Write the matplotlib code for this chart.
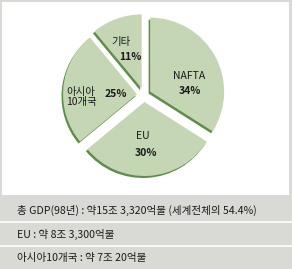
import matplotlib.pyplot as plt
from matplotlib.patches import Rectangle

plt.rcParams['font.family'] = ['Noto Sans CJK KR', 'DejaVu Sans']

# pie data
REGIONS = ["NAFTA", "EU", "아시아\n10개국", "기타"]
SHARES = [34, 30, 25, 11]

# notes under the chart
NOTES = [
    "총 GDP(98년) : 약15조 3,320억불 (세계전체의 54.4%)",
    "EU : 약 8조 3,300억불",
    "아시아10개국 : 약 7조 20억불",
]

W, H = 292, 269
BG_GRAY = "#d9dad5"
FILL = "#c5d6b5"
EDGE = "#5e8c4a"
TXT = "#1a1a1a"

fig = plt.figure(figsize=(W / 100, H / 100), dpi=100)
fig.patch.set_facecolor(BG_GRAY)
ax = fig.add_axes([0, 0, 1, 1])

# white chart panel
ax.add_patch(Rectangle((2, H - 195), 287, 193, facecolor="white", edgecolor="none"))

# note rows separated by white lines
for yy in (221, 245):
    ax.plot([0, W], [H - yy - 0.5, H - yy - 0.5], color="white", lw=1.2)

cx, cy, r = 144, H - 95, 74
explode = [7] * len(SHARES)  # pie explode is in data units

# dark offset copy gives the shadow edge
ax.pie(SHARES, startangle=90, counterclock=False, explode=explode,
       center=(cx - 1.5, cy - 2), radius=r, colors=[EDGE] * 4,
       wedgeprops=dict(linewidth=0), frame=True)
ax.pie(SHARES, startangle=90, counterclock=False, explode=explode,
       center=(cx, cy), radius=r, colors=[FILL] * 4,
       wedgeprops=dict(linewidth=0), frame=True)
ax.set_xlim(0, W)
ax.set_ylim(0, H)
ax.set_aspect("auto")
ax.axis("off")

kw = dict(ha="center", va="center", color=TXT, fontsize=7.5)
ax.text(189, H - 76, REGIONS[0], **kw)
ax.text(190, H - 91, f"{SHARES[0]}%", fontweight="bold", **kw)
ax.text(143, H - 136, REGIONS[1], **kw)
ax.text(146, H - 153, f"{SHARES[1]}%", fontweight="bold", **kw)
ax.text(81, H - 97, REGIONS[2], linespacing=1.0, **kw)
ax.text(116, H - 94, f"{SHARES[2]}%", fontweight="bold", **kw)
ax.text(121, H - 42, REGIONS[3], **kw)
ax.text(130, H - 57, f"{SHARES[3]}%", fontweight="bold", **kw)

for note, yy in zip(NOTES, (210, 234, 258)):
    ax.text(17, H - yy, note, ha="left", va="center", color=TXT, fontsize=7.6)

fig.savefig("out.png", dpi=100, facecolor=fig.get_facecolor())
